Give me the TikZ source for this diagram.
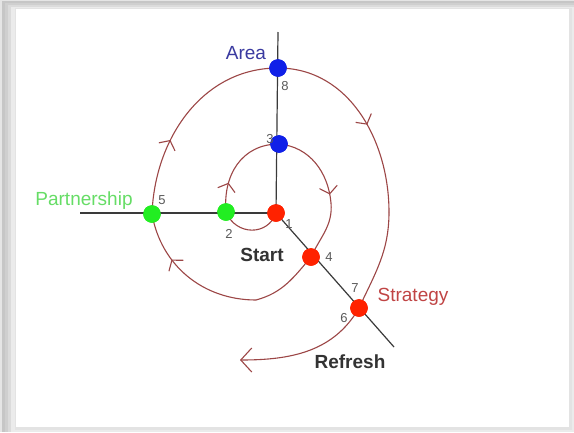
\documentclass[tikz,border=0pt]{standalone}
\usepackage{fontspec}
\setmainfont{Liberation Sans}
\usetikzlibrary{arrows.meta,decorations.markings}
\definecolor{spir}{HTML}{9C4646}
\definecolor{axis}{HTML}{3A3A3A}
\definecolor{ptred}{HTML}{FF2200}
\definecolor{ptgreen}{HTML}{22EE22}
\definecolor{ptblue}{HTML}{1020E8}
\definecolor{areac}{HTML}{3A3AA0}
\definecolor{partc}{HTML}{66DD66}
\definecolor{stratc}{HTML}{C04444}
\definecolor{numc}{HTML}{5A5A5A}
\definecolor{darkt}{HTML}{333333}
\tikzset{
  pt/.style={circle,inner sep=0pt,minimum size=17pt,draw=#1,fill=#1},
  axisline/.style={draw=axis,line width=1.2pt},
  spiral/.style={draw=spir,line width=1.1pt},
  midarrow/.style={postaction={decorate},decoration={markings,mark=at position #1 with {\arrow{Straight Barb[length=7pt,width=18pt,line width=1.1pt]}}}},
  num/.style={text=numc,font=\fontsize{13}{13}\selectfont,inner sep=0pt},
  lab/.style={font=\fontsize{19}{19}\selectfont,inner sep=0pt},
  blab/.style={font=\fontsize{19}{19}\selectfont\bfseries,text=darkt,inner sep=0pt},
}
\begin{document}
\begin{tikzpicture}[x=1pt,y=-1pt]
\useasboundingbox (0,0) rectangle (574,432);
% frame with shadow
\fill[gray!20] (0,0) rectangle (574,432);
\fill[gray!45] (2,1) rectangle (574,432);
\fill[gray!38] (5,3) rectangle (574,432);
\fill[gray!28] (8,5) rectangle (574,432);
\fill[gray!16] (11,7) rectangle (574,432);
\fill[gray!22] (15,8) rectangle (572,430);
\fill[white] (16,9) rectangle (569,427);

% points
\coordinate (ntop) at (278,32);
\coordinate (nleft) at (80,213);
\coordinate (ndiag) at (394,347);
\coordinate (bend) at (331,203);
\coordinate (bot) at (256,300);
\coordinate (rgt) at (389,212);
\coordinate (tail) at (240,360);

\node[pt=ptred] (n1) at (276,213) {};
\node[pt=ptgreen] (n2) at (226,212) {};
\node[pt=ptblue] (n3) at (279,144) {};
\node[pt=ptred] (n4) at (311,257) {};
\node[pt=ptgreen] (n5) at (152,214) {};
\node[pt=ptblue] (n6) at (278,68) {};
\node[pt=ptred] (n7) at (359,308) {};

% axes
\draw[axisline] (ntop) -- (n1.center);
\draw[axisline] (nleft) -- (n1.center);
\draw[axisline] (n1.center) -- (ndiag);

% spiral
\draw[spiral] (n1.center) .. controls (268,236) and (236,236) .. (n2.center);
\draw[spiral,midarrow=0.3] (n2.center) to[out=95,in=180,looseness=1.1] (n3.center);
\draw[spiral,midarrow=0.9] (n3.center) to[out=-5,in=95] (bend);
\draw[spiral] (bend) to[out=-85,in=65] (n4.center);
\draw[spiral] (n4.center) to[out=-130,in=15] (bot);
\draw[spiral,midarrow=0.66] (bot) to[out=180,in=-80] (n5.center);
\draw[spiral,midarrow=0.36] (n5.center) to[out=88,in=180] (n6.center);
\draw[spiral,midarrow=0.55] (n6.center) to[out=0,in=90] (rgt);
\draw[spiral] (rgt) to[out=-90,in=65] (n7.center);
\draw[spiral,-{Straight Barb[length=11pt,width=24pt,line width=1.1pt]}] (n7.center) to[out=-120,in=0] (tail);

% nodes redrawn on top
\node[pt=ptred] at (n1) {};
\node[pt=ptgreen] at (n2) {};
\node[pt=ptblue] at (n3) {};
\node[pt=ptred] at (n4) {};
\node[pt=ptgreen] at (n5) {};
\node[pt=ptblue] at (n6) {};
\node[pt=ptred] at (n7) {};

% labels
\node[lab,text=areac] (larea) at (246,53) {Area};
\node[lab,text=partc] (lpart) at (84,201) {Partnership};
\node[lab,text=stratc] (lstrat) at (413,297) {Strategy};
\node[blab] (lstart) at (262,255) {Start};
\node[blab] (lref) at (350,362) {Refresh};
\node[num] (l8) at (285,86) {8};
\node[num] (l3) at (270,139) {3};
\node[num] (l5) at (162,200) {5};
\node[num] (l2) at (229,234) {2};
\node[num] (l1) at (289,224) {1};
\node[num] (l4) at (329,257) {4};
\node[num] (l7) at (355,288) {7};
\node[num] (l6) at (344,318) {6};
\end{tikzpicture}
\end{document}
